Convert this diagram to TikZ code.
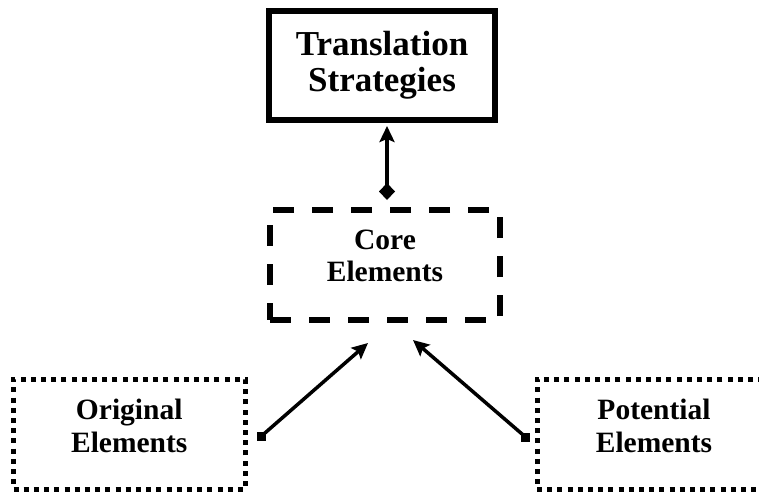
\documentclass[tikz,border=0pt]{standalone}
\usepackage{fontspec}
\setmainfont{Liberation Serif}
\usetikzlibrary{arrows.meta}

\tikzset{
  solidbox/.style={draw, line width=6pt, minimum width=226pt, minimum height=109pt, inner sep=0pt},
  dashbox/.style={draw, line width=6pt, dash pattern=on 21pt off 18pt, dash phase=0pt,
                  minimum width=230pt, minimum height=110pt, inner sep=0pt},
  dotbox/.style={draw, line width=5pt, dash pattern=on 5pt off 5.2pt,
                 minimum width=231.5pt, minimum height=110pt, inner sep=0pt},
  bigtext/.style={align=center, font=\bfseries\fontsize{35}{36}\selectfont, inner sep=0pt},
  midtext/.style={align=center, font=\bfseries\fontsize{29.5}{32.5}\selectfont, inner sep=0pt},
  link/.style={line width=3.5pt},
  headtip/.tip={Stealth[length=16pt,width=15pt,inset=3pt]},
}

\begin{document}
\begin{tikzpicture}[x=1pt,y=-1pt]
  \clip (0,0) rectangle (759,495);
  \fill[white] (0,0) rectangle (759,495);

  % boxes
  \node[solidbox, bigtext] (top) at (382,65.5) {Translation\\Strategies};
  \node[dashbox] (core) at (385,265) {};
  \node[midtext] (coreT) at (385,256) {Core\\Elements};
  \node[dotbox] (orig) at (129.25,434) {};
  \node[midtext] (origT) at (129.25,426) {Original\\Elements};
  \node[dotbox] (pot) at (652.75,434) {};
  \node[midtext] (potT) at (654,426) {Potential\\Elements};

  % connector end points
  \coordinate (topIn)  at ([shift={(5,3)}]top.south);
  \coordinate (coreUp) at ([shift={(2,-7)}]core.north);
  \coordinate (coreL)  at ([shift={(-17,20)}]core.south);
  \coordinate (coreR)  at ([shift={(28,17)}]core.south);
  \coordinate (origSq) at ([shift={(14,2)}]orig.east);
  \coordinate (potSq)  at ([shift={(-9,3)}]pot.west);

  % connectors
  \draw[link, {Diamond[length=17pt,width=16pt]}-headtip] (coreUp) -- (topIn);
  \draw[link, -headtip] (origSq) -- (coreL);
  \draw[link, -headtip] (potSq) -- (coreR);
  \fill ([shift={(-4.5,-4.5)}]origSq) rectangle ([shift={(4.5,4.5)}]origSq);
  \fill ([shift={(-4.5,-4.5)}]potSq) rectangle ([shift={(4.5,4.5)}]potSq);
\end{tikzpicture}
\end{document}
